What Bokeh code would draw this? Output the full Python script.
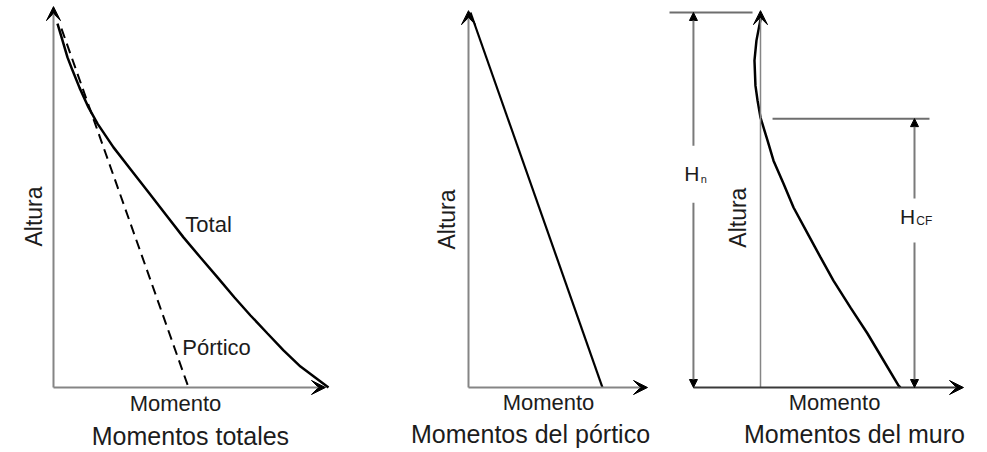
import math
from bokeh.plotting import figure
from bokeh.layouts import row
from bokeh.models import Range1d, Arrow, VeeHead, NormalHead
from bokeh.core.properties import value
from bokeh.embed import file_html
from bokeh.resources import INLINE

# ---------------- data (normalised moment / height) ----------------
# Panel 1: total moments and frame (pórtico) moments
total_h = [1.011, 0.964, 0.917, 0.881, 0.833, 0.778, 0.733, 0.667, 0.603, 0.539,
           0.478, 0.417, 0.361, 0.306, 0.25, 0.2, 0.15, 0.103, 0.058, 0.0]
total_m = [0.0145, 0.0327, 0.0509, 0.0691, 0.0945, 0.1273, 0.16, 0.2182, 0.2836, 0.349,
           0.4109, 0.4727, 0.5345, 0.5964, 0.6582, 0.7164, 0.7782, 0.8364, 0.8982, 1.0]
portico1_h = [0.997, 0.0]
portico1_m = [0.029, 0.491]

# Panel 2: frame moments
portico2_h = [1.0, 0.0]
portico2_m = [0.015, 1.0]

# Panel 3: wall moments
muro_h = [0.995, 0.925, 0.872, 0.805, 0.765, 0.72, 0.659, 0.605, 0.544, 0.48,
          0.411, 0.347, 0.285, 0.213, 0.144, 0.072, 0.005, 0.0]
muro_m = [0.007, -0.029, -0.043, -0.036, -0.021, 0.0, 0.05, 0.093, 0.164, 0.236,
          0.336, 0.429, 0.521, 0.643, 0.764, 0.879, 0.986, 1.0]
Hn = 1.0
Hcf = 0.717

titles = ["Momentos totales", "Momentos del pórtico", "Momentos del muro"]
xlabel = "Momento"
ylabel = "Altura"

FONT = value("Liberation Sans")
TXT = "#1c1c1c"
AX = "#858585"
H = 452


def make_fig(w, xr, yr):
    p = figure(width=w, height=H, x_range=Range1d(*xr), y_range=Range1d(*yr),
               output_backend="svg", toolbar_location=None, tools="",
               x_axis_location=None, y_axis_location=None, min_border=0)
    p.grid.visible = False
    p.outline_line_color = None
    p.background_fill_color = "white"
    p.border_fill_color = "white"
    return p


def axis_arrow(p, x0, y0, x1, y1, color=AX, width=2):
    p.add_layout(Arrow(end=VeeHead(size=14, line_color="black", line_width=1,
                                   fill_color="black"),
                       x_start=x0, y_start=y0, x_end=x1, y_end=y1,
                       line_color=color, line_width=width))


def dim_arrow(p, x0, y0, x1, y1):
    p.add_layout(Arrow(end=NormalHead(size=8, line_color="black", line_width=1,
                                      fill_color="black"),
                       x_start=x0, y_start=y0, x_end=x1, y_end=y1,
                       line_color="#7a7a7a", line_width=2))


def label(p, x, y, t, size, angle=0.0, align="center"):
    p.text(x=[x], y=[y], text=[t], text_font=FONT, text_font_size=size,
           text_align=align, text_baseline="middle", text_color=TXT, angle=angle)


# ---------------- panel 1 ----------------
p1 = make_fig(400, (-0.1927, 1.2618), (-0.1806, 1.075))
axis_arrow(p1, 0, 0, 0, 1.058)
axis_arrow(p1, 0, 0, 0.989, 0)
p1.line(portico1_m, portico1_h, line_color="black", line_width=2, line_dash="10 6")
p1.line(total_m, total_h, line_color="black", line_width=2.5)
label(p1, 0.564, 0.453, "Total", "22px")
label(p1, 0.593, 0.111, "Pórtico", "22px")
label(p1, -0.0727, 0.475, ylabel, "23px", angle=math.pi / 2)
label(p1, 0.4436, -0.044, xlabel, "22px")
label(p1, 0.498, -0.136, titles[0], "25px")

# ---------------- panel 2 ----------------
p2 = make_fig(250, (-0.5075, 1.3582), (-0.1733, 1.032))
axis_arrow(p2, 0, 0, 0, 1.005)
axis_arrow(p2, 0, 0, 1.336, 0)
p2.line(portico2_m, portico2_h, line_color="black", line_width=2.2)
label(p2, -0.157, 0.448, ylabel, "23px", angle=math.pi / 2)
label(p2, 0.597, -0.04, xlabel, "22px")
label(p2, 0.463, -0.123, titles[1], "25px")

# ---------------- panel 3 ----------------
p3 = make_fig(337, (-0.7857, 1.6214), (-0.1733, 1.032))
axis_arrow(p3, 0, 0, 0, 1.005, width=1.5)
axis_arrow(p3, -0.479, 0, 1.45, 0, color="#3a3a3a", width=2)
# dimension reference lines
p3.line([-0.65, -0.057], [Hn, Hn], line_color="#6e6e6e", line_width=2)
p3.line([0.086, 1.207], [Hcf, Hcf], line_color="#6e6e6e", line_width=2)
dim_arrow(p3, -0.479, 0.645, -0.479, Hn)
dim_arrow(p3, -0.479, 0.493, -0.479, 0.0)
dim_arrow(p3, 1.1, 0.504, 1.1, Hcf)
dim_arrow(p3, 1.1, 0.387, 1.1, 0.0)
p3.line(muro_m, muro_h, line_color="black", line_width=2.5)
label(p3, -0.49, 0.571, "H", "21px")
label(p3, -0.405, 0.555, "n", "11px")
label(p3, 1.05, 0.456, "H", "21px")
label(p3, 1.17, 0.445, "CF", "12px")
label(p3, -0.164, 0.453, ylabel, "23px", angle=math.pi / 2)
label(p3, 0.529, -0.04, xlabel, "22px")
label(p3, 0.671, -0.123, titles[2], "25px")

layout = row(p1, p2, p3)
open("out.html", "w").write(file_html(layout, INLINE))
